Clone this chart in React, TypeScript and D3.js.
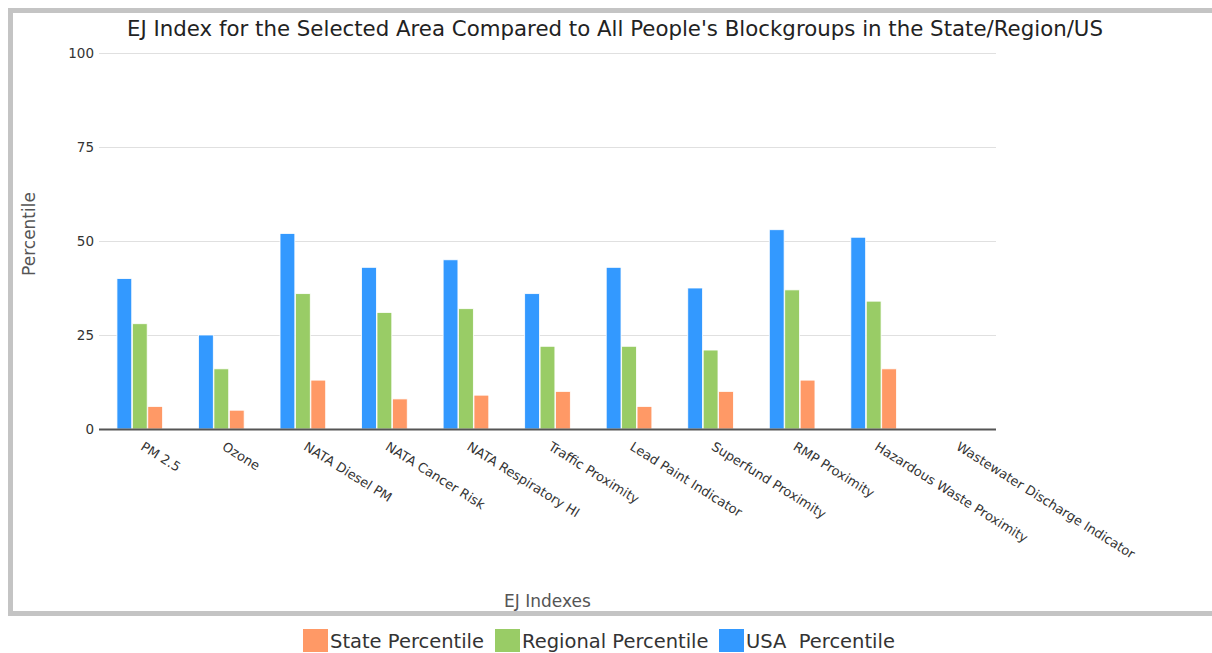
import React, { useRef, useEffect } from "react";
import * as d3 from "d3";

const CATEGORIES = [
  "PM 2.5",
  "Ozone",
  "NATA Diesel PM",
  "NATA Cancer Risk",
  "NATA Respiratory HI",
  "Traffic Proximity",
  "Lead Paint Indicator",
  "Superfund Proximity",
  "RMP Proximity",
  "Hazardous Waste Proximity",
  "Wastewater Discharge Indicator",
];

const USA_VALUES = [40, 25, 52, 43, 45, 36, 43, 37.5, 53, 51, null];
const REGIONAL_VALUES = [28, 16, 36, 31, 32, 22, 22, 21, 37, 34, null];
const STATE_VALUES = [6, 5, 13, 8, 9, 10, 6, 10, 13, 16, null];

const Y_TICKS = [0, 25, 50, 75, 100];

// bar order inside a group, left to right
const SERIES = [
  { key: "usa", name: "USA  Percentile", color: "#3399ff", values: USA_VALUES },
  { key: "regional", name: "Regional Percentile", color: "#99cc66", values: REGIONAL_VALUES },
  { key: "state", name: "State Percentile", color: "#ff9966", values: STATE_VALUES },
];
const LEGEND_ORDER = ["state", "regional", "usa"];

const W = 1212;
const H = 653;
const FONT = "'DejaVu Sans', Verdana, sans-serif";

const App: React.FC = () => {
  const svgRef = useRef<SVGSVGElement | null>(null);

  useEffect(() => {
    if (!svgRef.current) return;
    const svg = d3.select(svgRef.current);
    svg.selectAll("*").remove();

    const plot = { left: 99, right: 996, top: 53, bottom: 429 };

    /* frame */
    svg
      .append("rect")
      .attr("x", 10.5)
      .attr("y", 10.5)
      .attr("width", W + 20)
      .attr("height", 603)
      .attr("fill", "#fff")
      .attr("stroke", "#c4c4c4")
      .attr("stroke-width", 5);

    const x0 = d3.scaleBand<string>().domain(CATEGORIES).range([plot.left, plot.right]);
    const bw = x0.bandwidth();
    const x1 = d3
      .scaleBand<string>()
      .domain(SERIES.map((s) => s.key))
      .range([bw * 0.22, bw * 0.78])
      .paddingInner(0.04);
    const y = d3.scaleLinear().domain([0, 100]).range([plot.bottom, plot.top]);

    /* grid */
    svg
      .append("g")
      .selectAll("line")
      .data(Y_TICKS.filter((t) => t > 0))
      .join("line")
      .attr("x1", plot.left)
      .attr("x2", plot.right)
      .attr("y1", (d) => y(d) + 0.5)
      .attr("y2", (d) => y(d) + 0.5)
      .attr("stroke", "#e0e0e0")
      .attr("stroke-width", 1);

    /* y tick labels */
    svg
      .append("g")
      .selectAll("text")
      .data(Y_TICKS)
      .join("text")
      .attr("x", plot.left - 5)
      .attr("y", (d) => y(d) + 4.5)
      .attr("text-anchor", "end")
      .attr("font-family", FONT)
      .attr("font-size", "13.5px")
      .attr("fill", "#333")
      .text((d) => `${d}`);

    /* bars */
    const groups = svg
      .append("g")
      .selectAll("g")
      .data(CATEGORIES)
      .join("g")
      .attr("transform", (d) => `translate(${x0(d)},0)`);

    groups
      .selectAll("rect")
      .data((_, i) =>
        SERIES.filter((s) => s.values[i] != null).map((s) => ({ key: s.key, color: s.color, v: s.values[i] as number }))
      )
      .join("rect")
      .attr("x", (d) => x1(d.key)!)
      .attr("y", (d) => y(d.v))
      .attr("width", x1.bandwidth())
      .attr("height", (d) => y(0) - y(d.v))
      .attr("fill", (d) => d.color)
      .attr("stroke", "#fff")
      .attr("stroke-width", 0.8);

    /* x axis line */
    svg
      .append("line")
      .attr("x1", plot.left)
      .attr("x2", plot.right)
      .attr("y1", y(0) + 0.5)
      .attr("y2", y(0) + 0.5)
      .attr("stroke", "#555")
      .attr("stroke-width", 2);

    /* x labels */
    svg
      .append("g")
      .selectAll("text")
      .data(CATEGORIES)
      .join("text")
      .attr("transform", (d) => `translate(${x0(d)! + bw / 2},${y(0) + 20}) rotate(32)`)
      .attr("font-family", FONT)
      .attr("font-size", "13px")
      .attr("fill", "#333")
      .text((d) => d);

    /* titles */
    svg
      .append("text")
      .attr("x", 615)
      .attr("y", 36)
      .attr("text-anchor", "middle")
      .attr("font-family", FONT)
      .attr("font-size", "21px")
      .attr("textLength", 976)
      .attr("lengthAdjust", "spacingAndGlyphs")
      .attr("fill", "#222")
      .text("EJ Index for the Selected Area Compared to All People's Blockgroups in the State/Region/US");

    svg
      .append("text")
      .attr("transform", `translate(35,234) rotate(-90)`)
      .attr("text-anchor", "middle")
      .attr("font-family", FONT)
      .attr("font-size", "17px")
      .attr("fill", "#555")
      .text("Percentile");

    svg
      .append("text")
      .attr("x", (plot.left + plot.right) / 2)
      .attr("y", 607)
      .attr("text-anchor", "middle")
      .attr("font-family", FONT)
      .attr("font-size", "17px")
      .attr("fill", "#555")
      .text("EJ Indexes");

    /* legend */
    const legendItems = LEGEND_ORDER.map((k) => SERIES.find((s) => s.key === k)!);
    const legendX = [303, 495, 719];
    const lg = svg
      .append("g")
      .selectAll("g")
      .data(legendItems)
      .join("g")
      .attr("transform", (_, i) => `translate(${legendX[i]},629)`);
    lg.append("rect").attr("width", 25).attr("height", 23).attr("fill", (d) => d.color);
    lg.append("text")
      .attr("x", 27)
      .attr("y", 19)
      .attr("font-family", FONT)
      .attr("font-size", "19.5px")
      .attr("fill", "#333")
      .attr("xml:space", "preserve")
      .style("white-space", "pre")
      .text((d) => d.name);
  }, []);

  return (
    <div style={{ position: "fixed", left: 0, top: 0, width: W, height: H, background: "#fff" }}>
      <svg ref={svgRef} width={W} height={H} />
    </div>
  );
};

export default App;
